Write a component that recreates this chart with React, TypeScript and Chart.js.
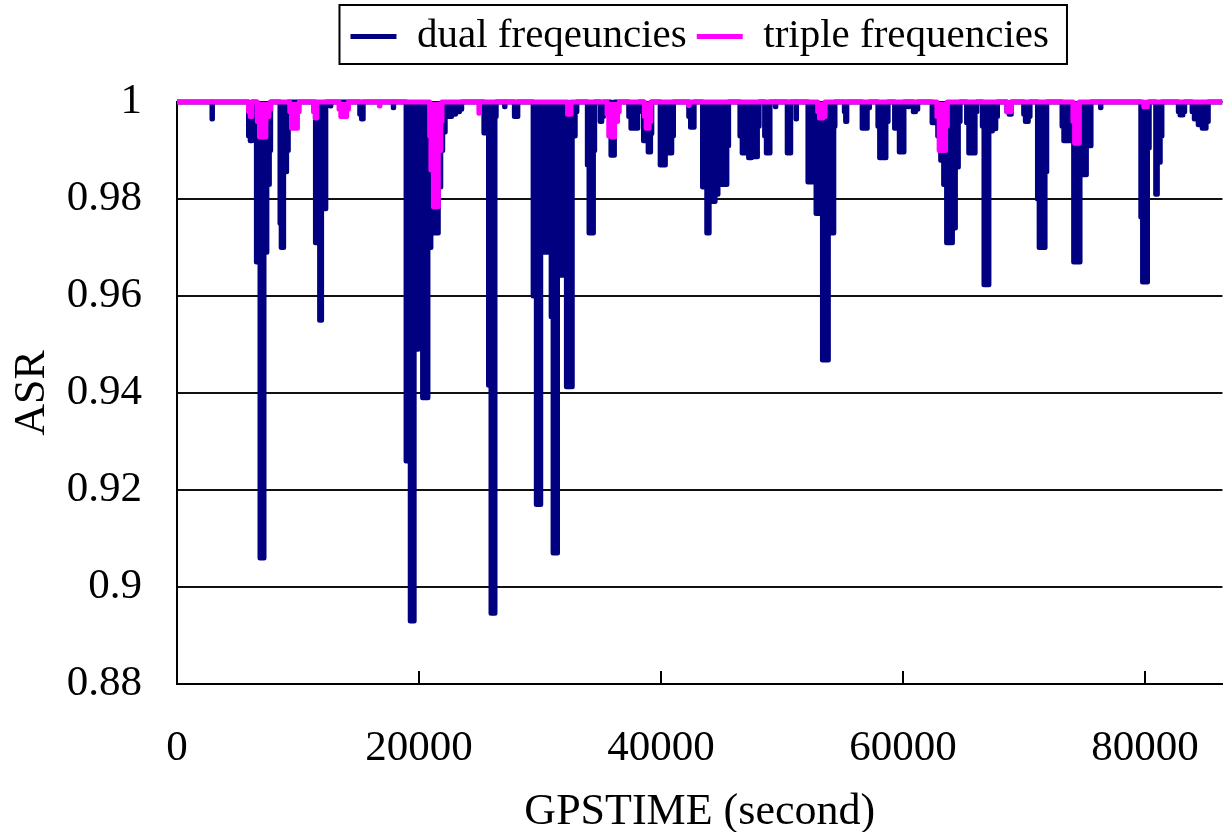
import React, { useEffect, useRef } from 'react';
import { Chart, registerables } from 'chart.js';

Chart.register(...registerables);

const FONT = "'Liberation Serif', 'Times New Roman', serif";

const seriesNames = ['dual freqeuncies', 'triple frequencies'];
const seriesColors = ['#000080', '#FF00FF'];

const dayStart = 0;
const dayEnd = 86400;

// GPS time (s) of each epoch where ASR < 1, and its ASR value
const dualTimes = [
  2910,
  5930, 6170,
  6580, 6740, 6980, 7070, 7310, 7550, 7720,
  8530, 8690, 8940, 9180,
  11460, 11700, 11870, 12030, 12280,
  12700,
  15120, 15370,
  17890,
  18950, 19190, 19360, 19520, 19680, 19850, 20010, 20170, 20420, 20660, 20820,
  21150, 21310, 21470, 21720, 21880, 22040, 22290, 22530, 22860, 23180, 23510,
  25380, 25620, 25870, 26030, 26200, 26360,
  27090,
  27900, 28150,
  29450, 29610, 29780, 29940, 30180, 30350, 30590, 30840, 31000, 31160, 31320, 31570, 31810, 32060, 32300, 32540, 32790, 33030,
  33930, 34170, 34330, 34500,
  34990, 35230,
  35880, 36130,
  37350, 37670, 38000, 38160,
  38570, 38810, 39060, 39220,
  39950, 40200, 40520, 40770, 41010,
  42310, 42560, 42720,
  43450, 43700, 43860, 44100, 44350, 44590, 44830, 45080, 45320, 45570,
  46540, 46870, 47110, 47360, 47600, 47850, 48090,
  48580, 48820, 48990,
  49470,
  50450, 50700,
  51180,
  52160, 52400, 52650, 52970, 53220, 53460, 53710, 53950, 54200, 54360,
  55170, 55340,
  56640, 56880, 57210,
  57940, 58190, 58430, 58750,
  59320, 59570, 59810, 60060,
  60460, 60870, 61200,
  62420, 62740, 62990, 63230, 63480, 63720, 63960, 64210, 64450, 64700,
  65270, 65590, 65840, 66080,
  66570, 66810, 66980, 67220, 67550, 67790,
  68600, 68930,
  69990, 70230, 70480,
  71130, 71370, 71620, 71860,
  73160, 73410, 73730, 73980, 74220, 74470, 74790, 75030, 75280, 75520,
  76340,
  79670, 79920, 80080, 80330,
  80900, 81140, 81380,
  82770, 83010, 83260,
  83910, 84230, 84560, 84890, 85210,
];
const dualValues = [
  0.9965,
  0.993, 0.992,
  0.967, 0.967, 0.906, 0.906, 0.969, 0.983, 0.99,
  0.975, 0.97, 0.9856, 0.99,
  0.971, 0.971, 0.955, 0.978, 0.978,
  0.9992,
  0.9975, 0.9965,
  0.9988,
  0.926, 0.926, 0.893, 0.893, 0.949, 0.949, 0.998, 0.97, 0.939, 0.939, 0.97,
  0.985, 0.973, 0.973, 0.9825, 0.99, 0.9938, 0.998, 0.997, 0.9975, 0.998, 0.9985,
  0.9936, 0.9936, 0.9416, 0.8946, 0.8946, 0.997,
  0.999,
  0.997, 0.997,
  0.96, 0.96, 0.917, 0.917, 0.998, 0.969, 0.969, 0.969, 0.9557, 0.907, 0.907, 0.9746, 0.9643, 0.9643, 0.9413, 0.9413, 0.993, 0.998,
  0.987, 0.973, 0.973, 0.99,
  0.996, 0.997,
  0.989, 0.989,
  0.997, 0.9946, 0.9946, 0.998,
  0.992, 0.992, 0.9897, 0.9935,
  0.987, 0.987, 0.9895, 0.9895, 0.993,
  0.997, 0.9948, 0.9948,
  0.9825, 0.9825, 0.973, 0.981, 0.9795, 0.981, 0.983, 0.983, 0.983, 0.991,
  0.993, 0.9895, 0.9895, 0.9885, 0.9887, 0.9887, 0.995,
  0.993, 0.9895, 0.9895,
  0.999,
  0.9895, 0.9895,
  0.9965,
  0.9835, 0.9835, 0.9907, 0.977, 0.977, 0.9468, 0.9468, 0.973, 0.973, 0.995,
  0.998, 0.996,
  0.9946, 0.9946, 0.9988,
  0.995, 0.9885, 0.9885, 0.996,
  0.9946, 0.9946, 0.9897, 0.9897,
  0.999, 0.998, 0.9985,
  0.9957, 0.9957, 0.993, 0.988, 0.983, 0.971, 0.971, 0.974, 0.9866, 0.996,
  0.9957, 0.9895, 0.9895, 0.998,
  0.995, 0.9623, 0.9623, 0.994, 0.9945, 0.997,
  0.998, 0.9975,
  0.9975, 0.996, 0.997,
  0.98, 0.97, 0.97, 0.9856,
  0.995, 0.992, 0.992, 0.993, 0.967, 0.967, 0.985, 0.985, 0.991, 0.991,
  0.9988,
  0.9763, 0.9629, 0.9629, 0.9905,
  0.981, 0.9876, 0.993,
  0.998, 0.9973, 0.998,
  0.998, 0.9965, 0.9953, 0.9946, 0.996,
];

const tripleTimes = [
  5930, 6170,
  6660, 6980, 7230, 7470, 7720,
  9340, 9590, 9830, 10080,
  11300, 11540,
  13410, 13660, 13900, 14150,
  16750,
  20900, 21070, 21310, 21470, 21720, 21880,
  24970,
  32300, 32540,
  35560, 35800, 36040, 36290, 36530,
  38650, 38890, 39140,
  42310,
  52970, 53220, 53540,
  62820, 63150, 63390, 63640,
  68600, 68930,
  74060, 74300, 74550,
  79920, 80160,
];
const tripleValues = [
  0.998, 0.997,
  0.996, 0.9928, 0.9928, 0.997, 0.9985,
  0.998, 0.9946, 0.9946, 0.998,
  0.998, 0.9967,
  0.9985, 0.997, 0.997, 0.9985,
  0.9992,
  0.993, 0.986, 0.9784, 0.9784, 0.99, 0.996,
  0.9977,
  0.9975, 0.9975,
  0.9975, 0.993, 0.9928, 0.996, 0.998,
  0.997, 0.9946, 0.996,
  0.9993,
  0.998, 0.9967, 0.997,
  0.997, 0.99, 0.99, 0.995,
  0.998, 0.998,
  0.996, 0.9915, 0.9915,
  0.999, 0.999,
];

const xTickValues = [0, 20000, 40000, 60000, 80000];
const xTickLabels = ['0', '20000', '40000', '60000', '80000'];
const yTickValues = [0.88, 0.9, 0.92, 0.94, 0.96, 0.98, 1];
const yTickLabels = ['0.88', '0.9', '0.92', '0.94', '0.96', '0.98', '1'];

const xTitle = 'GPSTIME (second)';
const yTitle = 'ASR';

// epochs closer than this are consecutive samples; otherwise ASR returns to 1 between them
const RUN_GAP = 350;
const EDGE = 40;

function buildSeries(times: number[], values: number[]) {
  const pts: { x: number; y: number }[] = [{ x: dayStart, y: 1 }];
  for (let i = 0; i < times.length; i++) {
    const newRun = i === 0 || times[i] - times[i - 1] > RUN_GAP;
    if (newRun) {
      if (i > 0) pts.push({ x: times[i - 1] + EDGE, y: 1 });
      pts.push({ x: times[i] - EDGE, y: 1 });
    }
    pts.push({ x: times[i], y: values[i] });
  }
  if (times.length) pts.push({ x: times[times.length - 1] + EDGE, y: 1 });
  pts.push({ x: dayEnd, y: 1 });
  return pts;
}

function labelFor(values: number[], labels: string[], v: number) {
  const i = values.findIndex((t) => Math.abs(t - v) < 1e-9);
  return i >= 0 ? labels[i] : '';
}

const decorPlugin = {
  id: 'decor',
  afterDraw(chart: any) {
    const ctx = chart.ctx;
    const lg = chart.legend;
    if (lg && lg.legendHitBoxes && lg.legendHitBoxes.length) {
      const hb = lg.legendHitBoxes;
      const left = Math.min(...hb.map((h: any) => h.left)) - 11;
      const right = Math.max(...hb.map((h: any) => h.left + h.width)) + 18;
      const top = Math.min(...hb.map((h: any) => h.top)) - 11;
      const bottom = Math.max(...hb.map((h: any) => h.top + h.height)) + 7;
      ctx.save();
      ctx.strokeStyle = '#000';
      ctx.lineWidth = 2;
      ctx.strokeRect(left, top, right - left, bottom - top);
      ctx.restore();
    }
    const xs = chart.scales.x;
    const area = chart.chartArea;
    ctx.save();
    ctx.strokeStyle = '#000';
    ctx.lineWidth = 2;
    xs.ticks.forEach((t: any) => {
      if (t.value === 0) return;
      const px = Math.round(xs.getPixelForValue(t.value));
      ctx.beginPath();
      ctx.moveTo(px, area.bottom);
      ctx.lineTo(px, area.bottom - 13);
      ctx.stroke();
    });
    ctx.restore();
  },
};

export default function App() {
  const ref = useRef<HTMLCanvasElement | null>(null);

  useEffect(() => {
    if (!ref.current) return;
    const common = {
      borderWidth: 5,
      pointRadius: 0,
      tension: 0,
      stepped: 'middle',
      fill: 'end',
      borderJoinStyle: 'round',
      clip: { left: 0, top: 4, right: 0, bottom: 0 },
    };
    const chart = new Chart(ref.current, {
      type: 'line',
      data: {
        datasets: [
          {
            ...common,
            label: seriesNames[0],
            data: buildSeries(dualTimes, dualValues),
            borderColor: seriesColors[0],
            backgroundColor: seriesColors[0],
            order: 1,
          },
          {
            ...common,
            label: seriesNames[1],
            data: buildSeries(tripleTimes, tripleValues),
            borderColor: seriesColors[1],
            backgroundColor: seriesColors[1],
            order: 0,
          },
        ],
      },
      options: {
        responsive: false,
        maintainAspectRatio: false,
        animation: false,
        devicePixelRatio: 1,
        events: [],
        layout: { padding: { top: 6, left: 0, right: 0, bottom: 0 } },
        plugins: {
          tooltip: { enabled: false },
          filler: { propagate: false },
          title: {
            display: true,
            text: '',
            weight: 500,
            font: { size: 1, lineHeight: 1 },
            padding: { top: 0, bottom: 34 },
          },
          legend: {
            display: true,
            position: 'top',
            align: 'center',
            fullSize: false,
            weight: 1000,
            labels: {
              boxWidth: 46,
              boxHeight: 5,
              padding: 10,
              color: '#000',
              font: { family: FONT, size: 41 },
              generateLabels: (c: any) =>
                c.data.datasets.map((ds: any, i: number) => ({
                  text: ds.label,
                  fillStyle: ds.borderColor,
                  strokeStyle: ds.borderColor,
                  lineWidth: 0,
                  hidden: false,
                  datasetIndex: i,
                  fontColor: '#000',
                })),
            },
          },
        },
        scales: {
          x: {
            type: 'linear',
            min: dayStart,
            max: dayEnd,
            afterBuildTicks: (scale: any) => {
              scale.ticks = xTickValues.map((v) => ({ value: v }));
            },
            afterFit: (scale: any) => {
              scale.height = 148;
            },
            ticks: {
              color: '#000',
              font: { family: FONT, size: 43 },
              padding: 39,
              maxRotation: 0,
              autoSkip: false,
              callback: (v: any) => labelFor(xTickValues, xTickLabels, Number(v)),
            },
            grid: { display: false, drawTicks: false },
            border: { display: true, color: '#000', width: 2 },
            title: {
              display: true,
              text: xTitle,
              color: '#000',
              font: { family: FONT, size: 44, lineHeight: 0.87 },
              padding: 0,
            },
          },
          y: {
            type: 'linear',
            min: 0.88,
            max: 1,
            afterBuildTicks: (scale: any) => {
              scale.ticks = yTickValues.map((v) => ({ value: v }));
            },
            afterFit: (scale: any) => {
              scale.width = 177;
            },
            ticks: {
              color: '#000',
              font: { family: FONT, size: 43 },
              padding: 35,
              autoSkip: false,
              callback: (v: any) => labelFor(yTickValues, yTickLabels, Number(v)),
            },
            grid: { display: true, color: '#111', lineWidth: 2, drawTicks: false },
            border: { display: true, color: '#000', width: 2 },
            title: {
              display: true,
              text: yTitle,
              color: '#000',
              font: { family: FONT, size: 44 },
              padding: { top: 6, bottom: 0 },
            },
          },
        },
      },
      plugins: [decorPlugin],
    } as any);
    return () => chart.destroy();
  }, []);

  return (
    <div
      style={{
        position: 'absolute',
        left: 0,
        top: 0,
        width: 1223,
        height: 832,
        overflow: 'hidden',
        background: '#fff',
      }}
    >
      <canvas ref={ref} width={1239} height={832} style={{ display: 'block', width: 1239, height: 832 }} />
    </div>
  );
}
